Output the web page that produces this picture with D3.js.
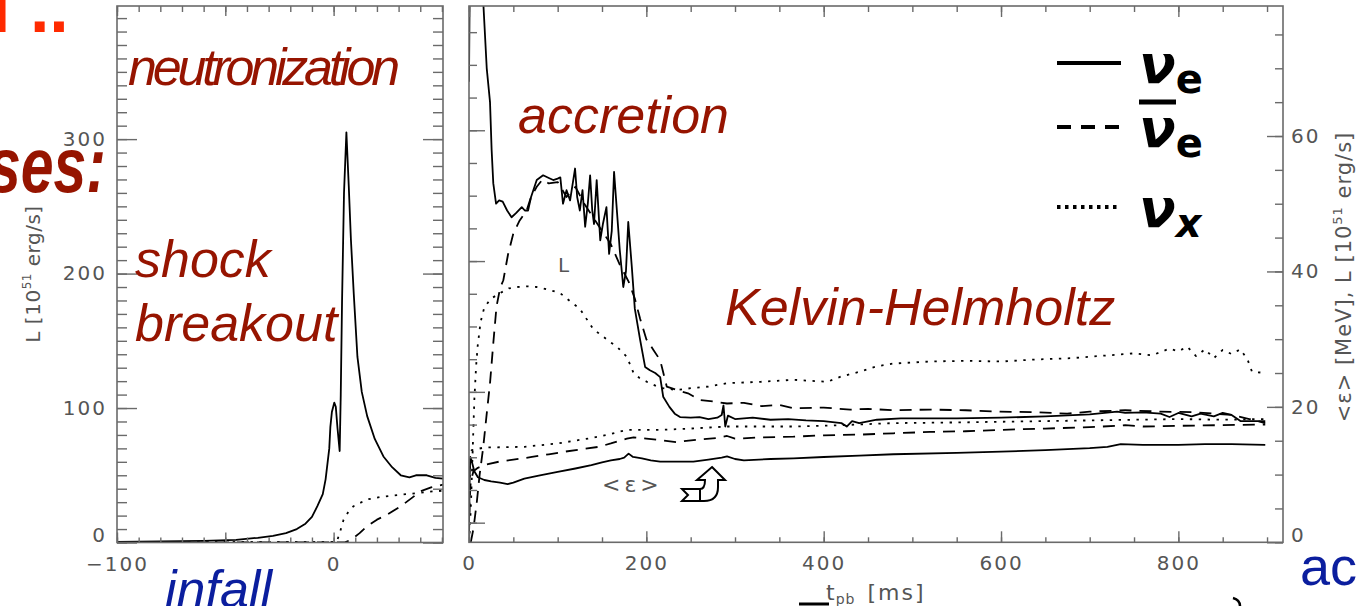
<!DOCTYPE html>
<html>
<head>
<meta charset="utf-8">
<script src="https://cdn.jsdelivr.net/npm/d3@7"></script>
<style>
body { margin: 0; background: #fff; }
svg { display: block; }
.tick line { stroke: #6a6a6a; stroke-width: 1.4px; }
.tick text { font-family: "DejaVu Sans", sans-serif; font-size: 20px; fill: #555; letter-spacing: 2px; }
.ann { font-family: "Liberation Sans", Arial, sans-serif; font-style: italic; font-size: 52px; fill: #961400; }
.ttl { font-family: "DejaVu Sans", sans-serif; font-size: 21px; fill: #555; letter-spacing: 1px; }
.curve { fill: none; stroke: #000; stroke-width: 1.8px; stroke-linejoin: round; }
</style>
</head>
<body>
<svg width="1358" height="606"></svg>
<script>
// ---- data: left panel (t in ms, L in 10^51 erg/s) ----
var leftNue = [[-100,0.5],[-80,0.8],[-60,1.2],[-45,2],[-35,3.5],[-28,5],[-22,7],[-17,10],[-13,14],[-10,19],
  [-7.5,27],[-5,36],[-3.7,47],[-2,70],[-1.5,86],[-0.8,97],[0.3,104],[1,101],[1.8,85],[2.8,68],[3.3,110],
  [3.9,180],[4.8,260],[5.9,305],[7,265],[8,225],[9.3,185],[11,138],[13,112],[15.5,94],[19,77],[23,64],
  [27,56],[31,50],[35,48.5],[38,50],[43,50],[47,48],[50.5,47.5]];
var leftAnue = [[-100,0],[5,0],[8,2],[12,7],[15.4,12],[20,17],[25,21],[31,27],[36,33],[40,38],[45,41],[50.5,43]];
var leftNux = [[-100,0.3],[0,0.5],[1.5,0.8],[3,8],[4.6,17],[6.5,22],[9.2,27],[15.4,32],[22,34],[31,35.5],
  [40,37],[46,38],[50.5,38.5]];

// ---- data: right panel (t in ms, L and <eps> on right axis units) ----
var nueL = [[0,68],[1.5,95],[14,95],[16,80],[20,70],[23.7,65],[25.5,58],[27.4,53],[30.5,50],[34,50.5],[38,50.3],
  [43,49],[48,48],[53,48.6],[59.5,49.5],[63,49],[66.6,49],[70,51],[76.4,53.5],[83.6,54.2],[90,53.8],[95,53.5],
  [100,53.7],[103,53.9],[106,50],[110,52],[114,50.5],[119.6,55.2],[122,51],[125,49],[128,52],[131,46.6],
  [134,50],[136.6,54.2],[139,49],[141,47],[144,53.5],[148,44.6],[151,47],[155,49.5],[158,42.6],[161,46],
  [163.6,54.7],[167,48.6],[170,43.2],[174,37.7],[177,40],[179.6,47.3],[183.6,40.7],[187,34.5],[193,29.9],
  [198.6,25.9],[204,25.4],[210,25],[215.6,24.4],[219,21.5],[226,20],[232,19],[238,18.5],[250,18.4],
  [260,18.5],[270,18.2],[280,18.4],[285,18.8],[287,20.2],[289,17.1],[292,18.7],[300,18.2],[320,18.4],
  [340,18.1],[360,18.2],[380,18],[400,17.9],[420,17.6],[426,17.1],[432,17.9],[440,17.6],[460,18.1],
  [487,18.3],[550,18.3],[600,18.4],[650,18.6],[700,18.9],[731,19.3],[740,19.1],[760,19.2],[780,19],
  [790,18.5],[800,19.1],[815,18.6],[825,19],[840,18.6],[850,19.1],[860,18.8],[870,17.9],[898,17.9]];
var anueL = [[2,0],[5,2],[8.7,5.8],[12,10],[16,14],[20,19],[23.7,23.5],[27.4,29.4],[31,34.8],[35,37.5],
  [38.7,38.7],[44,42.5],[50,45.6],[57,47.5],[65,49],[70,51],[76.4,52.5],[83,53.6],[90,53],[100,53.2],
  [110,51],[120,52.5],[130,50],[140,48],[150,46],[160,44],[170,41],[180,38.5],[187,36],[193,33],[200,30],
  [208,28.4],[215.6,26.9],[223,23],[234,22.5],[247,22],[260.7,21],[275,20.8],[291,20.5],[310,20.6],
  [330,20.1],[350,20.3],[366,19.8],[400,19.9],[430,19.6],[450,19.7],[478.6,19.5],[520,19.6],[560,19.5],
  [599,19.3],[640,19.2],[674.6,19],[700,19.3],[740,19.5],[780,19.3],[820,19.2],[860,18.8],[880,18.2],[898,17.6]];
var nuxL = [[0,0],[1,2],[2.3,6],[4,13],[6,21],[8,26],[9.8,29],[13,32.5],[17.3,34.7],[25,36],[35,36.8],
  [45,37.5],[53.8,37.7],[65,37.8],[76.4,37.7],[90,37.3],[102.7,36.8],[115,35.5],[125,34.5],[140,31.5],
  [150,30.5],[160,29.5],[166.7,28.9],[178,27.4],[185.6,25],[192,24.3],[200.6,23.7],[215.6,22.8],[234,22.5],
  [253,22.8],[270,23],[291,23.5],[310,23.6],[328.7,23.7],[366,24],[404,23.7],[420,24.5],[441,25.2],
  [460,26],[478.6,26.4],[520,26.7],[560,26.8],[600,26.7],[640,27],[680,27.2],[720,27.6],[750,27.9],
  [770,27.6],[790,28.6],[800,28.2],[810,28.9],[820,27.5],[830,28.5],[840,27.2],[850,28.4],[860,27.8],
  [870,28.5],[878,27],[883,25.2],[898,25]];
var nueE = [[0,2],[0.8,10],[1.5,12.6],[3,12],[6,10.5],[10,9.6],[17.3,9.2],[25,9],[35,8.8],[43.6,8.6],
  [50,8.8],[62.4,9.4],[80,9.9],[100,10.4],[120,10.9],[138,11.4],[150,11.8],[160,12.1],[170,12.3],
  [175,12.5],[180,13.1],[185,12.6],[195,12.4],[205,12.1],[215.6,11.9],[230,11.9],[253,11.9],[270,12.2],
  [285,12.5],[291,12.7],[300,12.3],[310,12.1],[340,12.3],[366,12.4],[400,12.6],[440,12.8],[478.6,13],
  [550,13.2],[600,13.4],[650,13.6],[700,13.9],[720,14.1],[735,14.5],[760,14.4],[800,14.4],[830,14.5],
  [860,14.5],[898,14.4]];
var anueE = [[0,1],[1,7],[2,9],[5,10.5],[10,11],[20,11.5],[33.6,11.9],[50,12.2],[71,12.6],[90,13],
  [108.7,13.4],[130,13.8],[146.4,14.1],[160,14.6],[170,15],[178,15.3],[185.6,15.5],[200,15.3],[215,15.1],
  [234,14.8],[260,15.2],[280,15.4],[291,15.7],[300,15.3],[330,15.5],[366,15.6],[400,15.8],[440,15.9],
  [478.6,16.1],[520,16.3],[560,16.4],[600,16.6],[650,16.8],[700,17],[730,17.2],[740,17.3],[760,17.1],
  [800,17.2],[850,17.3],[898,17.4]];
var nuxE = [[0,3],[1,12],[3,13.6],[17.3,14],[62.4,14.1],[100,14.6],[138,15.4],[160,16],[178,16.6],
  [200,16.6],[215.6,16.6],[250,16.8],[291,17.1],[330,17.1],[366,17.1],[420,17.3],[478.6,17.6],[550,17.7],
  [600,17.8],[650,17.9],[700,18],[750,18.1],[800,18.2],[850,18.1],[898,18.2]];

// tick values
var leftXMajor = [-100, -50, 0];
var leftXLabels = [-100, 0];
var leftYMajor = [0, 100, 200, 300];
var rightXMajor = [0, 200, 400, 600, 800];
var rightYMajor = [0, 20, 40, 60];
var rightLMajor = [0, 100, 200, 300];

var svg = d3.select("svg");

// scales
var xL = d3.scaleLinear().domain([-100, 50.5]).range([117, 443]);
var yL = d3.scaleLinear().domain([0, 399]).range([542.5, 6]);
var xR = d3.scaleLinear().domain([0, 918]).range([469, 1283]);
var yR = d3.scaleLinear().domain([0, 79.2]).range([542.3, 6]);
var yRL = d3.scaleLinear().domain([-15, 395]).range([542.3, 6]);

var defs = svg.append("defs");
defs.append("clipPath").attr("id", "clipL").append("rect")
  .attr("x", 117).attr("y", 6).attr("width", 326).attr("height", 536.5);
defs.append("clipPath").attr("id", "clipR").append("rect")
  .attr("x", 469).attr("y", 6).attr("width", 814).attr("height", 536.3);

var dashStyle = { solid: null, dashed: "12,8", dotted: "2.4,6.5" };

function drawCurve(g, data, x, y, style) {
  g.append("path")
    .datum(data)
    .attr("class", "curve")
    .attr("stroke-dasharray", dashStyle[style])
    .attr("d", d3.line().x(function(d) { return x(d[0]); }).y(function(d) { return y(d[1]); }));
}

// ---- curves ----
var gL = svg.append("g").attr("clip-path", "url(#clipL)");
drawCurve(gL, leftNux, xL, yL, "dotted");
drawCurve(gL, leftAnue, xL, yL, "dashed");
drawCurve(gL, leftNue, xL, yL, "solid");

var gR = svg.append("g").attr("clip-path", "url(#clipR)");
drawCurve(gR, nuxL, xR, yR, "dotted");
drawCurve(gR, anueL, xR, yR, "dashed");
drawCurve(gR, nueL, xR, yR, "solid");
drawCurve(gR, nuxE, xR, yR, "dotted");
drawCurve(gR, anueE, xR, yR, "dashed");
drawCurve(gR, nueE, xR, yR, "solid");

// ---- axes ----
function axis(gen, tx, ty, values, size, labels) {
  var a = gen.tickValues(values).tickSize(-size).tickPadding(labels ? labels.pad : 0)
    .tickFormat(labels ? labels.fmt : "");
  var g = svg.append("g").attr("transform", "translate(" + tx + "," + ty + ")").call(a);
  g.select(".domain").remove();
  return g;
}
var fmt = d3.format("");

// left panel
axis(d3.axisBottom(xL), 0, 542.5, d3.range(-100, 51, 10), 5);
axis(d3.axisBottom(xL), 0, 542.5, leftXMajor, 10,
  { pad: 14, fmt: function(d) { return leftXLabels.indexOf(d) >= 0 ? fmt(d) : ""; } });
axis(d3.axisTop(xL), 0, 6, d3.range(-100, 51, 10), 6);
axis(d3.axisTop(xL), 0, 6, leftXMajor, 10);
axis(d3.axisLeft(yL), 117, 0, d3.range(0, 400, 10), 10);
var la = axis(d3.axisLeft(yL), 117, 0, leftYMajor, 20, { pad: 10, fmt: fmt });
la.selectAll(".tick text").filter(function(d) { return d === 0; }).attr("dy", "-0.05em");
axis(d3.axisRight(yL), 443, 0, d3.range(0, 400, 10), 10);
axis(d3.axisRight(yL), 443, 0, leftYMajor, 20);

// right panel
axis(d3.axisBottom(xR), 0, 542.3, d3.range(0, 918, 50), 5);
axis(d3.axisBottom(xR), 0, 542.3, rightXMajor, 11, { pad: 14, fmt: fmt });
axis(d3.axisTop(xR), 0, 6, d3.range(0, 918, 50), 6);
axis(d3.axisTop(xR), 0, 6, rightXMajor, 11);
axis(d3.axisLeft(yRL), 469, 0, d3.range(0, 396, 25), 8);
axis(d3.axisLeft(yRL), 469, 0, rightLMajor, 16);
axis(d3.axisRight(yR), 1283, 0, d3.range(0, 80, 5), 8);
var ra = axis(d3.axisRight(yR), 1283, 0, rightYMajor, 16, { pad: 8, fmt: fmt });
ra.selectAll(".tick text").filter(function(d) { return d === 0; }).attr("dy", "-0.05em");

// boxes
[[xL, yL], [xR, yR]].forEach(function(s) {
  svg.append("rect")
    .attr("x", s[0].range()[0]).attr("y", s[1].range()[1])
    .attr("width", s[0].range()[1] - s[0].range()[0])
    .attr("height", s[1].range()[0] - s[1].range()[1])
    .attr("fill", "none").attr("stroke", "#6a6a6a").attr("stroke-width", 1.6);
});

// axis titles
var tl = svg.append("text").attr("class", "ttl").style("font-size", "20px").style("letter-spacing", "0.5px")
  .attr("transform", "translate(40,274) rotate(-90)").attr("text-anchor", "middle");
tl.append("tspan").text("L [10");
tl.append("tspan").attr("dy", -9).attr("font-size", 12).text("51");
tl.append("tspan").attr("dy", 9).text(" erg/s]");

var tr = svg.append("text").attr("class", "ttl")
  .attr("transform", "translate(1351,277) rotate(-90)").attr("text-anchor", "middle");
tr.append("tspan").text("<\u03B5> [MeV], L [10");
tr.append("tspan").attr("dy", -9).attr("font-size", 13).text("51");
tr.append("tspan").attr("dy", 9).text(" erg/s]");

var tx = svg.append("text").attr("class", "ttl").attr("x", 826).attr("y", 600).style("font-size", "22px");
tx.append("tspan").text("t");
tx.append("tspan").attr("dy", 4).attr("font-size", 14).text("pb");
tx.append("tspan").attr("dy", -4).attr("dx", 12).attr("letter-spacing", 2).text("[ms]");
svg.append("rect").attr("x", 799).attr("y", 602.5).attr("width", 30).attr("height", 3).attr("fill", "#000");

// in-plot labels
svg.append("text").attr("class", "ttl").attr("x", 558).attr("y", 272).style("font-size", "20px").text("L");
svg.append("text").attr("class", "ttl").attr("x", 602).attr("y", 492).style("font-size", "22px")
  .style("letter-spacing", "4px").text("<\u03B5>");

// arrow icon
svg.append("path")
  .attr("transform", "translate(682,467)")
  .attr("d", "M30,0 L43,13 L36,13 L36,20 C36,29 31,34 22,34 L0,34 L6,28 L0,22 L18,22 C22,22 23,19 23,13 L15,13 Z")
  .attr("fill", "#fff").attr("stroke", "#000").attr("stroke-width", 2).attr("stroke-linejoin", "miter");
svg.append("path")
  .attr("transform", "translate(682,467)")
  .attr("d", "M18,22 L18,34").attr("stroke", "#000").attr("stroke-width", 2);

// legend
var legend = [
  { label: "\u03BD", sub: "e", style: "solid", y: 63, bar: false },
  { label: "\u03BD", sub: "e", style: "dashed", y: 127, bar: true },
  { label: "\u03BD", sub: "x", style: "dotted", y: 207, bar: false }
];
var legDash = { solid: null, dashed: "14,10", dotted: "3.5,4.5" };
legend.forEach(function(d) {
  svg.append("line").attr("x1", 1057).attr("x2", 1121).attr("y1", d.y).attr("y2", d.y)
    .attr("stroke", "#000").attr("stroke-width", 4).attr("stroke-dasharray", legDash[d.style]);
  var t = svg.append("text").attr("x", 1139).attr("y", d.y + 20)
    .attr("font-family", "DejaVu Sans, sans-serif").attr("font-weight", "bold").attr("fill", "#000");
  t.append("tspan").attr("font-size", 54).attr("font-style", "italic").text(d.label);
  t.append("tspan").attr("font-size", 40).attr("dy", 10)
    .attr("font-style", d.sub === "x" ? "italic" : "normal").text(d.sub);
  if (d.bar) {
    svg.append("rect").attr("x", 1139).attr("y", 99.5).attr("width", 37).attr("height", 5).attr("fill", "#000");
  }
});

// phase annotations
svg.append("text").attr("class", "ann").attr("x", 128).attr("y", 85).attr("letter-spacing", -4.2).text("neutronization");
svg.append("text").attr("class", "ann").attr("x", 135).attr("y", 277).text("shock");
svg.append("text").attr("class", "ann").attr("x", 135).attr("y", 341).text("breakout");
svg.append("text").attr("class", "ann").attr("x", 518).attr("y", 133).text("accretion");
svg.append("text").attr("class", "ann").attr("x", 725).attr("y", 325).text("Kelvin-Helmholtz");
svg.append("text").attr("class", "ann").attr("x", 165).attr("y", 607).style("fill", "#0b1e9e").text("infall");
svg.append("text").attr("x", 1300).attr("y", 585).attr("font-family", "Liberation Sans, Arial, sans-serif")
  .attr("font-size", 54).attr("fill", "#0b1e9e").text("ac");

// slide fragments at the left edge
svg.append("text").attr("x", -12).attr("y", 192).attr("font-family", "Liberation Sans, Arial, sans-serif")
  .attr("font-size", 78).attr("font-weight", "bold").attr("font-style", "italic").attr("fill", "#961400")
  .attr("textLength", 118).attr("lengthAdjust", "spacingAndGlyphs").text("ses:");
svg.append("text").attr("x", -9).attr("y", 32).attr("font-family", "Liberation Sans, Arial, sans-serif")
  .attr("font-size", 70).attr("font-weight", "bold").attr("fill", "#ff2a00").text("l ..");
svg.append("path").attr("d", "M1233,598 Q1240,600 1240,606").attr("fill", "none")
  .attr("stroke", "#000").attr("stroke-width", 2.5);
</script>
</body>
</html>
